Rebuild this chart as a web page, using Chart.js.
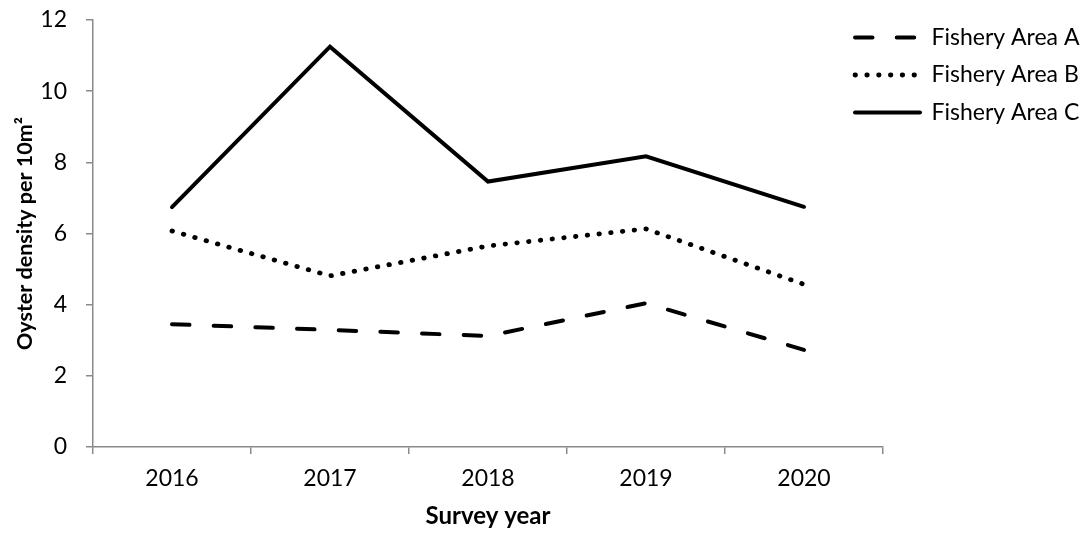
<!DOCTYPE html>
<html>
<head>
<meta charset="utf-8">
<script src="https://cdn.jsdelivr.net/npm/chart.js@4.4.1/dist/chart.umd.min.js"></script>
<style>
  html, body { margin: 0; padding: 0; background: #ffffff; }
  canvas { display: block; }
</style>
</head>
<body>
<canvas id="chart" width="1088" height="533"></canvas>
<script>
// Survey years and oyster density (per 10 m²) for each fishery area
const years = ['2016', '2017', '2018', '2019', '2020'];
const areaA = [3.45, 3.29, 3.12, 4.04, 2.73];
const areaB = [6.07, 4.81, 5.65, 6.13, 4.57];
const areaC = [6.74, 11.25, 7.46, 8.17, 6.75];
const seriesNames = ['Fishery Area A', 'Fishery Area B', 'Fishery Area C'];
const yTicks = [0, 2, 4, 6, 8, 10, 12];

const FONT = 'Lato, "Open Sans", sans-serif';
const AXIS_GREY = '#8a8a8a';
const LEGEND_PAD = 14.5;

// Places the legend block beside the plot, where the line samples start
const legendPlacement = {
  id: 'legendPlacement',
  beforeDraw(chart) {
    if (chart.legend) {
      chart.legend.left = 855 - LEGEND_PAD;
      chart.legend.top = 26 - LEGEND_PAD;
    }
  }
};

new Chart(document.getElementById('chart'), {
  type: 'line',
  data: {
    labels: years,
    datasets: [
      {
        label: seriesNames[0],
        data: areaA,
        borderColor: '#000000',
        backgroundColor: '#000000',
        borderWidth: 4,
        borderDash: [17.5, 24.2],
        borderCapStyle: 'round',
        pointRadius: 0,
        tension: 0
      },
      {
        label: seriesNames[1],
        data: areaB,
        borderColor: '#000000',
        backgroundColor: '#000000',
        borderWidth: 4.8,
        borderDash: [0.5, 11.3],
        borderCapStyle: 'round',
        pointRadius: 0,
        tension: 0
      },
      {
        label: seriesNames[2],
        data: areaC,
        borderColor: '#000000',
        backgroundColor: '#000000',
        borderWidth: 4,
        borderCapStyle: 'round',
        pointRadius: 0,
        tension: 0
      }
    ]
  },
  options: {
    responsive: false,
    animation: false,
    devicePixelRatio: 1,
    layout: { padding: { top: 0, left: 0, right: 0, bottom: 0 } },
    plugins: {
      tooltip: { enabled: false },
      legend: {
        position: 'right',
        align: 'start',
        maxWidth: 205,
        labels: {
          usePointStyle: true,
          pointStyle: 'line',
          pointStyleWidth: 65,
          padding: LEGEND_PAD,
          color: '#000000',
          font: { family: FONT, size: 23 },
          // keep each series' dash pattern in its legend sample
          generateLabels(chart) {
            return chart.data.datasets.map((ds, i) => ({
              text: ds.label,
              fillStyle: ds.borderColor,
              strokeStyle: ds.borderColor,
              fontColor: '#000000',
              lineWidth: ds.borderWidth,
              lineDash: ds.borderDash || [],
              lineDashOffset: 0,
              lineCap: ds.borderCapStyle || 'butt',
              lineJoin: 'miter',
              pointStyle: 'line',
              hidden: false,
              datasetIndex: i
            }));
          }
        }
      }
    },
    scales: {
      x: {
        type: 'category',
        offset: true,
        border: { display: true, color: AXIS_GREY, width: 1.5 },
        grid: {
          offset: true,
          drawOnChartArea: false,
          drawTicks: true,
          tickLength: 7,
          color: AXIS_GREY,
          lineWidth: 1.5
        },
        ticks: {
          color: '#000000',
          font: { family: FONT, size: 23 },
          padding: 11,
          maxRotation: 0
        },
        title: {
          display: true,
          text: 'Survey year',
          color: '#000000',
          font: { family: FONT, size: 24, weight: 'bold' },
          padding: { top: 0, bottom: 2 }
        },
        afterFit(scale) { scale.height = 86; }
      },
      y: {
        min: yTicks[0],
        max: yTicks[yTicks.length - 1],
        border: { display: true, color: AXIS_GREY, width: 1.5 },
        grid: {
          drawOnChartArea: false,
          drawTicks: true,
          tickLength: 7,
          color: AXIS_GREY,
          lineWidth: 1.5
        },
        afterBuildTicks(scale) {
          scale.ticks = yTicks.map(v => ({ value: v }));
        },
        ticks: {
          color: '#000000',
          font: { family: FONT, size: 23 },
          padding: 19
        },
        title: {
          display: true,
          text: 'Oyster density per 10m²',
          color: '#000000',
          font: { family: FONT, size: 21.5, weight: 'bold' },
          padding: { top: 12, bottom: 0 }
        },
        afterFit(scale) {
          scale.width = 93;
          scale.paddingTop = 20;
          scale.paddingBottom = 0;
        }
      }
    }
  },
  plugins: [legendPlacement]
});
</script>
</body>
</html>
